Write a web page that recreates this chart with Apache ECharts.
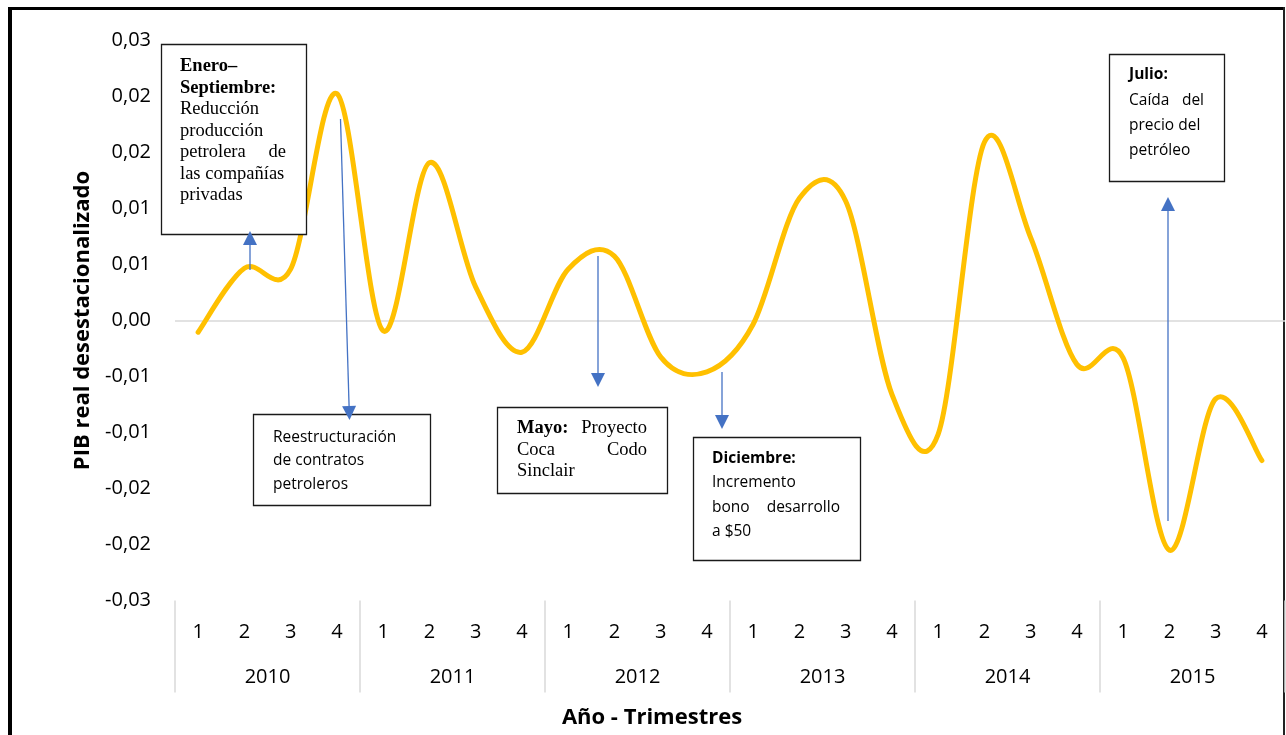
<!DOCTYPE html>
<html>
<head>
<meta charset="utf-8">
<title>PIB real desestacionalizado</title>
<script src="https://cdn.jsdelivr.net/npm/echarts@6/dist/echarts.min.js"></script>
<style>
  html, body { margin: 0; padding: 0; background: #fff; }
  #chart { width: 1286px; height: 735px; }
</style>
</head>
<body>
<div id="chart"></div>
<script>
// Quarterly seasonally adjusted real GDP variation, 2010-2015
const years = ['2010', '2011', '2012', '2013', '2014', '2015'];
const quarters = ['1', '2', '3', '4', '1', '2', '3', '4', '1', '2', '3', '4',
                  '1', '2', '3', '4', '1', '2', '3', '4', '1', '2', '3', '4'];
const pib = [
  -0.00125, 0.0056, 0.0055, 0.0243,   // 2010
  -0.0011, 0.0169, 0.0036, -0.0034,   // 2011
  0.0055, 0.0069, -0.0039, -0.0055,   // 2012
  -0.0004, 0.0131, 0.0128, -0.0079,   // 2013
  -0.0122, 0.0191, 0.0089, -0.0047,   // 2014
  -0.0040, -0.0246, -0.0084, -0.0150  // 2015
];
const yMin = -0.03, yMax = 0.03, yStep = 0.006;

const SANS = '"Open Sans", "Liberation Sans", sans-serif';
const SERIF = '"Liberation Serif", "DejaVu Serif", serif';
const ARROW = '#4472C4';

// Event notes: box, text column, lines; a line with two parts is justified
const notes = [
  { box: [161, 44, 145, 190], tx: 180, tr: 286, font: SERIF, size: 18.5, lines: [
      [66, [['Enero–', true]]],
      [88, [['Septiembre:', true]]],
      [109, [['Reducción']]],
      [131, [['producción']]],
      [152, [['petrolera'], ['de']]],
      [174, [['las compañías']]],
      [195, [['privadas']]]
  ]},
  { box: [253, 414, 177, 91], tx: 273, tr: 410, font: SANS, size: 15.5, lines: [
      [438, [['Reestructuración']]],
      [461, [['de contratos']]],
      [485, [['petroleros']]]
  ]},
  { box: [497, 407, 170, 86], tx: 517, tr: 647, font: SERIF, size: 18.5, lines: [
      [428, [['Mayo:', true], ['Proyecto']]],
      [450, [['Coca'], ['Codo']]],
      [471, [['Sinclair']]]
  ]},
  { box: [693, 437, 167, 123], tx: 712, tr: 840, font: SANS, size: 15.5, lines: [
      [459, [['Diciembre:', true]]],
      [483, [['Incremento']]],
      [508, [['bono'], ['desarrollo']]],
      [532, [['a $50']]]
  ]},
  { box: [1109, 54, 115, 127], tx: 1129, tr: 1204, font: SANS, size: 15.5, lines: [
      [75, [['Julio:', true]]],
      [101, [['Caída'], ['del']]],
      [126, [['precio del']]],
      [151, [['petróleo']]]
  ]}
];

// Arrows: [fromX, fromY, tipX, tipY]
const arrows = [
  [250, 270, 250, 231],
  [340.5, 119, 349.5, 420],
  [598, 256, 598, 387],
  [722, 372, 722, 429],
  [1168, 521, 1168, 197]
];

function buildGraphics() {
  const els = [];
  // chart frame
  els.push({ type: 'rect', shape: { x: 8, y: 7, width: 4, height: 728 }, style: { fill: '#000' }, silent: true });
  els.push({ type: 'rect', shape: { x: 8, y: 7, width: 1277, height: 3 }, style: { fill: '#000' }, silent: true });
  els.push({ type: 'rect', shape: { x: 1283, y: 7, width: 2, height: 728 }, style: { fill: '#222' }, silent: true });

  notes.forEach(n => {
    els.push({
      type: 'rect', z: 10,
      shape: { x: n.box[0] + 0.5, y: n.box[1] + 0.5, width: n.box[2], height: n.box[3] },
      style: { fill: '#fff', stroke: '#1a1a1a', lineWidth: 1.3 },
      silent: true
    });
    n.lines.forEach(([y, parts]) => {
      parts.forEach((p, k) => {
        const right = parts.length > 1 && k === parts.length - 1;
        els.push({
          type: 'text', z: 11, x: right ? n.tr : n.tx, y: y,
          style: {
            text: p[0], fill: '#000',
            fontFamily: n.font, fontSize: n.size, fontWeight: p[1] ? 'bold' : 'normal',
            align: right ? 'right' : 'left', verticalAlign: 'middle'
          },
          silent: true
        });
      });
    });
  });

  arrows.forEach(([x1, y1, x2, y2]) => {
    const dx = x2 - x1, dy = y2 - y1;
    const len = Math.sqrt(dx * dx + dy * dy);
    const ux = dx / len, uy = dy / len;
    const hl = 14, hw = 7;
    const bx = x2 - ux * hl, by = y2 - uy * hl;
    els.push({ type: 'line', z: 12, shape: { x1: x1, y1: y1, x2: bx, y2: by },
      style: { stroke: ARROW, lineWidth: 1.3 }, silent: true });
    els.push({ type: 'polygon', z: 12,
      shape: { points: [[x2, y2], [bx - uy * hw, by + ux * hw], [bx + uy * hw, by - ux * hw]] },
      style: { fill: ARROW }, silent: true });
  });

  els.push({
    type: 'text', x: 652, y: 718,
    style: { text: 'Año - Trimestres', fill: '#000', fontFamily: SANS, fontSize: 22,
             fontWeight: 'bold', align: 'center', verticalAlign: 'middle' },
    silent: true
  });
  return els;
}

// Smoothed curve through every point (cardinal spline in pixel space)
function renderCurve(params, api) {
  if (params.dataIndex !== 0) return null;
  const pts = pib.map((v, i) => api.coord([i, v]));
  let d = 'M' + pts[0][0] + ' ' + pts[0][1];
  for (let i = 0; i < pts.length - 1; i++) {
    const p0 = pts[i - 1] || pts[i], p1 = pts[i], p2 = pts[i + 1], p3 = pts[i + 2] || pts[i + 1];
    const c1x = p1[0] + (p2[0] - p0[0]) / 6, c1y = p1[1] + (p2[1] - p0[1]) / 6;
    const c2x = p2[0] - (p3[0] - p1[0]) / 6, c2y = p2[1] - (p3[1] - p1[1]) / 6;
    d += ' C' + c1x + ' ' + c1y + ' ' + c2x + ' ' + c2y + ' ' + p2[0] + ' ' + p2[1];
  }
  return {
    type: 'path',
    shape: { pathData: d },
    style: { fill: null, stroke: '#FFC000', lineWidth: 5, lineCap: 'round', lineJoin: 'round' },
    silent: true
  };
}

const chart = echarts.init(document.getElementById('chart'), null, { renderer: 'canvas' });
chart.setOption({
  animation: false,
  backgroundColor: '#fff',
  grid: { left: 175, right: 1, top: 40.5, bottom: 134.5, containLabel: false },
  xAxis: [
    {
      type: 'category', data: quarters, position: 'bottom', boundaryGap: true,
      axisLine: { show: false }, axisTick: { show: false }, splitLine: { show: false },
      axisLabel: { interval: 0, margin: 22, color: '#000', fontFamily: SANS, fontSize: 20 }
    },
    {
      type: 'category', data: years, position: 'bottom', boundaryGap: true,
      axisLine: { show: false },
      axisTick: { show: true, interval: 0, length: 92, lineStyle: { color: '#D9D9D9', width: 1.5 } },
      splitLine: { show: false },
      axisLabel: { interval: 0, margin: 67, color: '#000', fontFamily: SANS, fontSize: 20 }
    }
  ],
  yAxis: {
    type: 'value', min: yMin, max: yMax, interval: yStep,
    axisLine: { show: false }, axisTick: { show: false }, splitLine: { show: false },
    axisLabel: {
      margin: 24, color: '#000', fontFamily: SANS, fontSize: 20,
      formatter: v => {
        if (Math.abs(v) < 1e-9) v = 0;
        return v.toFixed(2).replace('.', ',');
      }
    },
    name: 'PIB real desestacionalizado', nameLocation: 'middle', nameGap: 81, nameRotate: 90,
    nameTextStyle: { color: '#000', fontFamily: SANS, fontSize: 22, fontWeight: 'bold' }
  },
  series: [{
    type: 'custom',
    coordinateSystem: 'cartesian2d',
    xAxisIndex: 0, yAxisIndex: 0,
    z: 3,
    clip: false,
    data: pib.map((v, i) => [i, v]),
    renderItem: renderCurve,
    markLine: {
      silent: true, symbol: ['none', 'none'], z: 1,
      label: { show: false },
      lineStyle: { color: '#D9D9D9', width: 1.5, type: 'solid' },
      data: [{ yAxis: 0 }]
    }
  }],
  graphic: buildGraphics()
});
</script>
</body>
</html>
